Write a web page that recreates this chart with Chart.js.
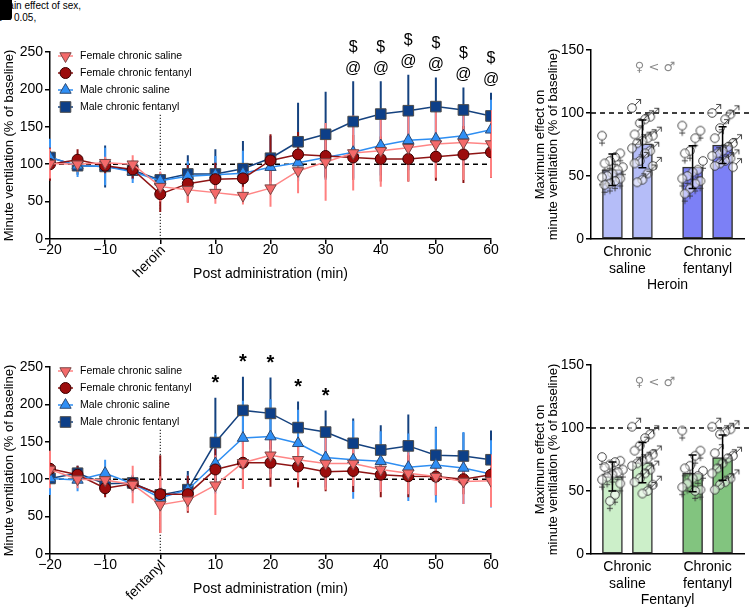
<!DOCTYPE html>
<html lang="en">
<head>
<meta charset="UTF-8">
<title>Minute ventilation after heroin and fentanyl</title>
<script src="https://cdn.jsdelivr.net/npm/chart.js@4.4.0/dist/chart.umd.min.js"></script>
<style>
  body { margin: 0; width: 750px; height: 608px; position: relative; overflow: hidden; background: #fff; font-family: "Liberation Sans", Arial, sans-serif; }
  .panel { position: absolute; }
  #badge { position: absolute; left: 0; top: 0; width: 12px; height: 20px; background: #000; border-radius: 0 0 3px 0; z-index: 2; }
  .cap { position: absolute; font-size: 10px; line-height: 12px; color: #000; white-space: nowrap; }
</style>
</head>
<body>

<div class="cap" style="left:0;top:0">Main effect of sex,</div>
<div class="cap" style="left:-3px;top:12px">p &lt; 0.05,</div>
<div id="badge"></div>

<canvas class="panel" id="heroinLine" width="500" height="300" style="left:0;top:0"></canvas>
<canvas class="panel" id="heroinBar" width="230" height="300" style="left:520px;top:0"></canvas>
<canvas class="panel" id="fentanylLine" width="500" height="300" style="left:0;top:315px"></canvas>
<canvas class="panel" id="fentanylBar" width="230" height="300" style="left:520px;top:315px"></canvas>

<script>
// ---------- data ----------
const times = [-20, -15, -10, -5, 0, 5, 10, 15, 20, 25, 30, 35, 40, 45, 50, 55, 60];
const seriesNames = ['Female chronic saline', 'Female chronic fentanyl', 'Male chronic saline', 'Male chronic fentanyl'];

// heroin challenge (mean, SD)
const herFemSal   = [101, 100, 102, 100, 70, 66, 62, 58, 68, 91, 103, 115, 118, 122, 127, 129, 127];
const herFemSalSd = [20, 10, 8, 12, 20, 18, 15, 12, 25, 30, 52, 50, 48, 45, 45, 50, 45];
const herFemFen   = [100, 106, 98, 93, 60, 74, 80, 81, 105, 113, 111, 109, 107, 107, 110, 113, 116];
const herFemFenSd = [22, 14, 10, 12, 24, 25, 22, 20, 35, 30, 30, 30, 30, 30, 32, 38, 34];
const herMalSal   = [109, 98, 97, 90, 78, 84, 86, 88, 96, 102, 109, 116, 125, 132, 134, 138, 146];
const herMalSalSd = [25, 15, 25, 15, 10, 20, 25, 30, 20, 25, 30, 35, 40, 40, 40, 40, 40];
const herMalFen   = [109, 98, 97, 92, 79, 87, 87, 94, 108, 130, 140, 157, 167, 171.5, 177, 172.5, 164.5];
const herMalFenSd = [15, 12, 28, 12, 10, 25, 33, 37, 30, 52, 57, 54, 44, 48, 39, 30, 31];
const herSigTimes = [35, 40, 45, 50, 55, 60];
const herSigSymbols = ['@', '$'];

// fentanyl challenge (mean, SD)
const fenFemSal   = [113, 100, 99, 93, 66, 72, 92, 122, 132, 126, 121, 121, 113, 108, 103.5, 97, 98];
const fenFemSalSd = [25, 12, 15, 25, 38, 15, 40, 35, 30, 30, 35, 30, 30, 28, 25, 30, 35];
const fenFemFen   = [114, 106, 88, 94, 80, 80, 113, 122, 122, 117, 110, 111, 106, 104, 103.5, 100, 106];
const fenFemFenSd = [20, 12, 12, 10, 52, 25, 28, 35, 32, 28, 26, 28, 30, 28, 25, 20, 22];
const fenMalSal   = [101, 99, 108, 94, 75, 86, 121, 155, 157, 148, 129, 126, 124, 116, 119, 115, 107];
const fenMalSalSd = [22, 15, 18, 12, 15, 20, 40, 50, 50, 45, 40, 52, 40, 45, 50, 48, 45];
const fenMalFen   = [101, 108, 94, 95, 79, 86, 149, 192, 188, 169, 163, 148, 139, 144.5, 132, 131, 126];
const fenMalFenSd = [12, 10, 15, 10, 10, 25, 60, 45, 48, 35, 29, 33, 33, 42, 38, 31, 39];
const fenSigTimes = [10, 15, 20, 25, 30];
const fenSigSymbols = ['*'];

// maximum effect bars: order = saline female, saline male, fentanyl female, fentanyl male
const groupLabels = [['Chronic', 'saline'], ['Chronic', 'fentanyl']];
const barSex = ['f', 'm', 'f', 'm'];
const herBarMeans = [55, 75.5, 57, 74.5];
const herBarSd = [12.5, 19, 17, 14.5];
const herBarPts = [
  [82, 68, 65, 62, 60, 57, 55, 52, 50, 49, 48, 46, 44, 43],
  [104, 97, 95, 92, 83, 82, 80, 78, 76, 72, 70, 68, 62, 60, 58, 52, 47, 45],
  [90, 86, 80, 70, 68, 62, 55, 53, 50, 48, 46, 44, 40, 36],
  [100, 99, 95, 88, 80, 76, 73, 70, 68, 66, 64, 62, 60, 58, 57]
];
const fenBarMeans = [61.5, 72.5, 64, 76.5];
const fenBarSd = [11.5, 16, 14.5, 18];
const fenBarPts = [
  [77, 74, 73, 71, 69, 67, 65, 63, 61, 59, 56, 47, 42],
  [101, 95, 92, 86, 82, 79, 76, 74, 72, 70, 67, 64, 60, 57, 55, 50, 48],
  [98, 82, 78, 70, 68, 66, 62, 60, 56, 53, 51, 50],
  [101, 99, 97, 95, 80, 78, 76, 72, 68, 64, 60, 57, 55, 51]
];

// ---------- styling ----------
Chart.defaults.font.family = '"Liberation Sans", Arial, sans-serif';
Chart.defaults.color = '#000';
const FONT = '"Liberation Sans", Arial, sans-serif';

const seriesStyle = [
  { line: '#ff8585', fill: '#f46a6a', edge: '#7a4646', err: '#ff8080', style: 'triangle', rot: 180, r: 6.5 },
  { line: '#8e1414', fill: '#9c0d0d', edge: '#3c0000', err: '#8e1414', style: 'circle', rot: 0, r: 5.5 },
  { line: '#2e8ef2', fill: '#2f8ff5', edge: '#2d4a73', err: '#3a95f5', style: 'triangle', rot: 0, r: 6.5 },
  { line: '#15427f', fill: '#0d3f88', edge: '#4a4a4a', err: '#15427f', style: 'rect', rot: 0, r: 7.5 }
];

function lineDatasets(means, sds) {
  return means.map((m, i) => {
    const s = seriesStyle[i];
    return {
      label: seriesNames[i],
      data: times.map((t, j) => ({ x: t, y: m[j] })),
      sd: sds[i],
      errColor: s.err,
      borderColor: s.line,
      borderWidth: 1.5,
      backgroundColor: s.fill,
      pointBackgroundColor: s.fill,
      pointBorderColor: s.edge,
      pointBorderWidth: 1,
      pointStyle: s.style,
      pointRotation: s.rot,
      pointRadius: s.r,
      tension: 0
    };
  });
}

const lineExtras = {
  id: 'lineExtras',
  beforeDatasetsDraw(chart, args, opts) {
    const { ctx, chartArea, scales: { x, y } } = chart;
    ctx.save();
    // 100 % baseline
    ctx.strokeStyle = '#000';
    ctx.lineWidth = 1.5;
    ctx.setLineDash([5, 4]);
    ctx.beginPath();
    ctx.moveTo(chartArea.left, y.getPixelForValue(100));
    ctx.lineTo(chartArea.right, y.getPixelForValue(100));
    ctx.stroke();
    // injection time
    ctx.lineWidth = 1;
    ctx.setLineDash([1.2, 1.8]);
    ctx.beginPath();
    ctx.moveTo(x.getPixelForValue(0), y.getPixelForValue(0));
    ctx.lineTo(x.getPixelForValue(0), y.getPixelForValue(opts.injTop));
    ctx.stroke();
    // error bars
    ctx.setLineDash([]);
    ctx.lineWidth = 2;
    chart.data.datasets.slice().reverse().forEach(ds => {
      ctx.strokeStyle = ds.errColor;
      ctx.beginPath();
      ds.data.forEach((p, j) => {
        const px = x.getPixelForValue(p.x);
        ctx.moveTo(px, y.getPixelForValue(p.y - ds.sd[j]));
        ctx.lineTo(px, y.getPixelForValue(p.y + ds.sd[j]));
      });
      ctx.stroke();
    });
    ctx.restore();
  },
  afterDraw(chart, args, opts) {
    const { ctx, scales: { x, y } } = chart;
    ctx.save();
    // legend
    chart.data.datasets.forEach((ds, i) => {
      const ly = 56 + i * 17;
      ctx.strokeStyle = ds.borderColor;
      ctx.lineWidth = 1.5;
      ctx.beginPath(); ctx.moveTo(58, ly); ctx.lineTo(73, ly); ctx.stroke();
      ctx.fillStyle = ds.pointBackgroundColor;
      ctx.strokeStyle = ds.pointBorderColor;
      ctx.lineWidth = 1;
      Chart.helpers.drawPoint(ctx, { pointStyle: ds.pointStyle, rotation: ds.pointRotation, radius: ds.pointRadius, borderWidth: 1 }, 65.5, ly);
      ctx.fillStyle = '#000';
      ctx.font = '10.5px ' + FONT;
      ctx.textAlign = 'left';
      ctx.textBaseline = 'middle';
      ctx.fillText(ds.label, 80, ly + 0.5);
    });
    // drug label at time 0
    ctx.translate(x.getPixelForValue(0) + 3, y.bottom + 9);
    ctx.rotate(-Math.PI / 4);
    ctx.font = '14px ' + FONT;
    ctx.textAlign = 'right';
    ctx.textBaseline = 'middle';
    ctx.fillStyle = '#000';
    ctx.fillText(opts.drug, 0, 0);
    ctx.setTransform(1, 0, 0, 1, 0, 0);
    // significance symbols above the male chronic fentanyl error bar
    const top = chart.data.datasets[3];
    ctx.textAlign = 'center';
    ctx.textBaseline = 'middle';
    opts.sigTimes.forEach(t => {
      const j = times.indexOf(t);
      const px = x.getPixelForValue(t);
      const py = y.getPixelForValue(top.data[j].y + top.sd[j]);
      opts.symbols.forEach((sym, k) => {
        if (sym === '*') {
          ctx.font = 'bold 20px ' + FONT;
          ctx.fillText(sym, px, py - 14);
        } else {
          ctx.font = '16px ' + FONT;
          ctx.fillText(sym, px, py - 13 - k * 21);
        }
      });
    });
    ctx.restore();
  }
};

function makeLine(id, means, sds, drug, sigTimes, symbols) {
  return new Chart(document.getElementById(id), {
    type: 'line',
    data: { datasets: lineDatasets(means, sds) },
    options: {
      responsive: false,
      animation: false,
      layout: { padding: { top: 52, right: 9, left: 0, bottom: 0 } },
      plugins: {
        legend: { display: false },
        tooltip: { enabled: false },
        lineExtras: { drug: drug, injTop: 168, sigTimes: sigTimes, symbols: symbols }
      },
      scales: {
        x: {
          type: 'linear', min: -20, max: 60, offset: false,
          afterFit: s => { s.height = s.chart.height - 239; },
          ticks: {
            stepSize: 10, font: { size: 14 }, color: '#000', padding: -2, maxRotation: 0,
            callback: v => v === 0 ? '' : (v < 0 ? '\u2212' + (-v) : String(v))
          },
          grid: { drawOnChartArea: false, drawTicks: true, tickLength: 5, color: '#000', lineWidth: 1.5 },
          border: { color: '#000', width: 1.5 },
          title: { display: true, text: 'Post administration (min)', font: { size: 14 }, color: '#000', padding: { top: 0, bottom: 17 } }
        },
        y: {
          min: 0, max: 250,
          afterFit: s => { s.width = 50; },
          ticks: { stepSize: 50, font: { size: 14 }, color: '#000', padding: 2 },
          grid: { drawOnChartArea: false, drawTicks: true, tickLength: 5, color: '#000', lineWidth: 1.5 },
          border: { color: '#000', width: 1.5 },
          title: { display: true, text: 'Minute ventilation (% of baseline)', font: { size: 13 }, color: '#000', padding: { top: 2, bottom: 0 } }
        }
      }
    },
    plugins: [lineExtras]
  });
}

// ---------- bar panels ----------
const barCenters = [0.7, 1.68, 3.32, 4.3];
const groupTicks = [1.19, 3.81];

function sexGlyph(sex) {
  const c = document.createElement('canvas');
  c.width = 26; c.height = 26;
  const g = c.getContext('2d');
  const cx = 13, cy = 13, r = 4.3;
  g.strokeStyle = '#333';
  g.lineWidth = 0.9;
  g.beginPath();
  if (sex === 'f') {
    g.moveTo(cx, cy + r); g.lineTo(cx, cy + r + 6);
    g.moveTo(cx - 3, cy + r + 3); g.lineTo(cx + 3, cy + r + 3);
  } else {
    const d = r * Math.SQRT1_2;
    const ex = cx + d + 5.5, ey = cy - d - 5.5;
    g.moveTo(cx + d, cy - d); g.lineTo(ex, ey);
    g.moveTo(ex - 4.5, ey); g.lineTo(ex, ey); g.lineTo(ex, ey + 4.5);
  }
  g.stroke();
  g.beginPath();
  g.arc(cx, cy, r, 0, Math.PI * 2);
  g.fillStyle = 'rgba(255,255,255,0.55)';
  g.fill();
  g.stroke();
  return c;
}
const glyphs = { f: sexGlyph('f'), m: sexGlyph('m') };

const barExtras = {
  id: 'barExtras',
  beforeDatasetsDraw(chart) {
    const { ctx, chartArea, scales: { y } } = chart;
    ctx.save();
    ctx.strokeStyle = '#000';
    ctx.lineWidth = 1.5;
    ctx.setLineDash([5, 4]);
    ctx.beginPath();
    ctx.moveTo(chartArea.left, y.getPixelForValue(100));
    ctx.lineTo(chart.width, y.getPixelForValue(100));
    ctx.stroke();
    ctx.restore();
  },
  afterDatasetsDraw(chart, args, opts) {
    const { ctx, scales: { x, y } } = chart;
    ctx.save();
    ctx.strokeStyle = '#000';
    ctx.lineWidth = 1.5;
    ctx.beginPath();
    opts.means.forEach((m, i) => {
      const px = x.getPixelForValue(barCenters[i]);
      const lo = y.getPixelForValue(m - opts.sd[i]), hi = y.getPixelForValue(m + opts.sd[i]);
      ctx.moveTo(px, lo); ctx.lineTo(px, hi);
      ctx.moveTo(px - 4, lo); ctx.lineTo(px + 4, lo);
      ctx.moveTo(px - 4, hi); ctx.lineTo(px + 4, hi);
    });
    ctx.stroke();
    ctx.fillStyle = '#8a8a8a';
    ctx.font = '13px "DejaVu Sans", sans-serif';
    ctx.textAlign = 'center';
    ctx.textBaseline = 'middle';
    ctx.fillText('\u2640 < \u2642', 655 - 520, 68);
    ctx.restore();
  }
};

function makeBar(id, means, sd, pts, colors, drug) {
  const datasets = [{
    type: 'bar',
    data: means.map((m, i) => ({ x: barCenters[i], y: m })),
    backgroundColor: colors,
    borderColor: '#333',
    borderWidth: 1.5,
    borderSkipped: false,
    barThickness: 20,
    order: 2
  }];
  pts.forEach((list, i) => {
    datasets.push({
      type: 'scatter',
      data: list.map((v, j) => ({ x: barCenters[i] + (((j * 7) % 9) - 4) * 0.085, y: v })),
      pointStyle: glyphs[barSex[i]],
      pointRadius: 5,
      order: 1
    });
  });
  return new Chart(document.getElementById(id), {
    type: 'bar',
    data: { datasets: datasets },
    options: {
      responsive: false,
      animation: false,
      layout: { padding: { top: 50, right: 0, left: 0, bottom: 0 } },
      plugins: {
        legend: { display: false },
        tooltip: { enabled: false },
        barExtras: { means: means, sd: sd }
      },
      scales: {
        x: {
          type: 'linear', min: 0, max: 5, offset: false,
          afterFit: s => { s.height = s.chart.height - 239; },
          afterBuildTicks: s => { s.ticks = groupTicks.map(v => ({ value: v })); },
          ticks: { font: { size: 14 }, color: '#000', padding: -3, maxRotation: 0, autoSkip: false,
                   callback: (v, i) => groupLabels[i] },
          grid: { display: false, offset: false },
          border: { color: '#000', width: 1.5 },
          title: { display: true, text: drug, font: { size: 14 }, color: '#000', padding: { top: 0, bottom: 6 } }
        },
        y: {
          min: 0, max: 150,
          afterFit: s => { s.width = 71; },
          ticks: { stepSize: 50, font: { size: 14 }, color: '#000', padding: 2 },
          grid: { drawOnChartArea: false, drawTicks: true, tickLength: 5, color: '#000', lineWidth: 1.5 },
          border: { color: '#000', width: 1.5 },
          title: { display: true, text: ['Maximum effect on', 'minute ventilation (% of baseline)'],
                   font: { size: 13, lineHeight: 1.0 }, color: '#000', padding: { top: 13.5, bottom: 0 } }
        }
      }
    },
    plugins: [barExtras]
  });
}

makeLine('heroinLine', [herFemSal, herFemFen, herMalSal, herMalFen],
         [herFemSalSd, herFemFenSd, herMalSalSd, herMalFenSd], 'heroin', herSigTimes, herSigSymbols);
makeLine('fentanylLine', [fenFemSal, fenFemFen, fenMalSal, fenMalFen],
         [fenFemSalSd, fenFemFenSd, fenMalSalSd, fenMalFenSd], 'fentanyl', fenSigTimes, fenSigSymbols);
makeBar('heroinBar', herBarMeans, herBarSd, herBarPts, ['#b5bdf8', '#b5bdf8', '#7c80f6', '#7c80f6'], 'Heroin');
makeBar('fentanylBar', fenBarMeans, fenBarSd, fenBarPts, ['#ccefc9', '#ccefc9', '#82c47f', '#82c47f'], 'Fentanyl');
</script>
</body>
</html>
